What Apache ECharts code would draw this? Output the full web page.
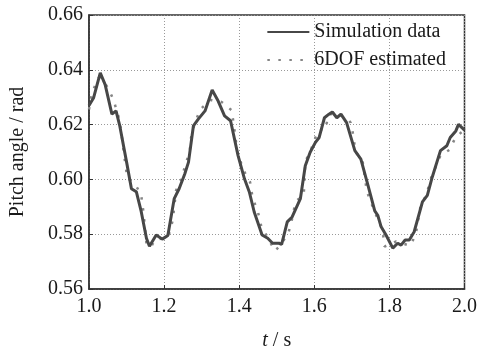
<!DOCTYPE html>
<html>
<head>
<meta charset="utf-8">
<script src="https://cdn.jsdelivr.net/npm/echarts@6/dist/echarts.min.js"></script>
<style>html,body{margin:0;padding:0;background:#fff;}#c{width:480px;height:356px;}</style>
</head>
<body>
<div id="c"></div>
<script>
var simTime = [1.000,1.012,1.030,1.043,1.061,1.072,1.082,1.100,1.113,1.126,1.139,1.153,1.161,1.179,1.195,1.210,1.227,1.240,1.255,1.265,1.278,1.291,1.309,1.328,1.344,1.361,1.377,1.397,1.414,1.427,1.440,1.461,1.476,1.489,1.506,1.513,1.528,1.541,1.563,1.576,1.589,1.603,1.613,1.627,1.639,1.648,1.660,1.671,1.686,1.708,1.724,1.743,1.761,1.769,1.778,1.791,1.809,1.822,1.831,1.842,1.853,1.866,1.888,1.901,1.914,1.936,1.953,1.962,1.977,1.984,2.000];
var simValue = [0.6270,0.6297,0.6389,0.6346,0.6238,0.6250,0.6195,0.6064,0.5966,0.5955,0.5883,0.5785,0.5756,0.5797,0.5782,0.5795,0.5930,0.5966,0.6020,0.6063,0.6195,0.6220,0.6250,0.6326,0.6286,0.6232,0.6214,0.6087,0.6002,0.5954,0.5881,0.5797,0.5785,0.5767,0.5767,0.5763,0.5845,0.5863,0.5930,0.6050,0.6099,0.6135,0.6153,0.6225,0.6238,0.6246,0.6225,0.6238,0.6207,0.6105,0.6074,0.5978,0.5885,0.5869,0.5827,0.5797,0.5749,0.5767,0.5760,0.5779,0.5779,0.5809,0.5918,0.5942,0.6008,0.6105,0.6123,0.6153,0.6177,0.6201,0.6180];
var estTime = [1.000,1.008,1.025,1.035,1.052,1.065,1.078,1.085,1.096,1.102,1.125,1.139,1.145,1.153,1.165,1.175,1.200,1.212,1.223,1.232,1.245,1.258,1.268,1.272,1.282,1.298,1.325,1.353,1.380,1.386,1.395,1.412,1.429,1.436,1.449,1.458,1.477,1.495,1.512,1.532,1.541,1.550,1.572,1.576,1.591,1.603,1.614,1.629,1.638,1.660,1.688,1.697,1.703,1.710,1.728,1.740,1.761,1.782,1.787,1.818,1.855,1.870,1.884,1.898,1.910,1.919,1.936,1.960,1.975,1.990,2.000];
var estValue = [0.6255,0.6316,0.6371,0.6365,0.6331,0.6291,0.6232,0.6183,0.6063,0.6005,0.5978,0.5942,0.5881,0.5765,0.5752,0.5780,0.5785,0.5795,0.5851,0.5960,0.5996,0.6060,0.6099,0.6154,0.6208,0.6258,0.6290,0.6283,0.6252,0.6195,0.6099,0.6032,0.5990,0.5930,0.5887,0.5833,0.5785,0.5739,0.5763,0.5809,0.5857,0.5918,0.5946,0.6065,0.6108,0.6153,0.6183,0.6181,0.6237,0.6240,0.6222,0.6207,0.6166,0.6099,0.6072,0.5956,0.5881,0.5815,0.5755,0.5774,0.5758,0.5797,0.5912,0.5940,0.6002,0.6032,0.6087,0.6108,0.6150,0.6170,0.6180];
var seriesNames = ['Simulation data', '6DOF estimated'];

function pairs(t, v) { return t.map(function (x, i) { return [x, v[i]]; }); }

var font = 'Liberation Serif';
var txt = '#1a1a1a';
var fs = 20;
var chart = echarts.init(document.getElementById('c'));
chart.setOption({
  animation: false,
  backgroundColor: '#fff',
  grid: { left: 86, right: 14, top: 15, bottom: 65, show: true, borderColor: '#333', borderWidth: 1.5, backgroundColor: 'transparent' },
  legend: {
    right: 34, top: 22, padding: 0, orient: 'vertical', itemWidth: 42, itemHeight: 14, itemGap: 8,
    textStyle: { fontFamily: font, fontSize: fs, color: txt },
    itemStyle: { opacity: 0 },
    data: seriesNames
  },
  xAxis: {
    type: 'value', min: 1, max: 2, interval: 0.2,
    name: '{i|t} / s', nameLocation: 'middle', nameGap: 42,
    nameTextStyle: { fontFamily: font, fontSize: fs, color: txt, rich: { i: { fontFamily: font, fontStyle: 'italic', fontSize: fs, color: txt } } },
    axisLine: { show: true, lineStyle: { color: '#333', width: 1.5 } },
    axisTick: { show: true, inside: true, length: 4, lineStyle: { color: '#333' } },
    axisLabel: { fontFamily: font, fontSize: fs, color: txt, margin: 8, formatter: function (v) { return v.toFixed(1); } },
    splitLine: { show: true, lineStyle: { color: '#999', type: [1, 2], width: 1 } }
  },
  yAxis: {
    type: 'value', min: 0.56, max: 0.66, interval: 0.02,
    name: 'Pitch angle / rad', nameLocation: 'middle', nameGap: 61,
    nameTextStyle: { fontFamily: font, fontSize: fs, color: txt },
    axisLine: { show: true, lineStyle: { color: '#333', width: 1.5 } },
    axisTick: { show: true, inside: true, length: 4, lineStyle: { color: '#333' } },
    axisLabel: { fontFamily: font, fontSize: fs, color: txt, margin: 6, formatter: function (v) { return v.toFixed(2); } },
    splitLine: { show: true, lineStyle: { color: '#999', type: [1, 2], width: 1 } }
  },
  series: [
    {
      name: seriesNames[1], type: 'line', data: pairs(estTime, estValue), symbol: 'none', z: 2,
      lineStyle: { color: '#858585', width: 2.5, type: [2.5, 8.5], cap: 'butt' },
      itemStyle: { color: '#858585' }
    },
    {
      name: seriesNames[0], type: 'line', data: pairs(simTime, simValue), symbol: 'none', z: 3,
      lineStyle: { color: '#474747', width: 3 },
      itemStyle: { color: '#474747' }
    }
  ]
});
</script>
</body>
</html>
